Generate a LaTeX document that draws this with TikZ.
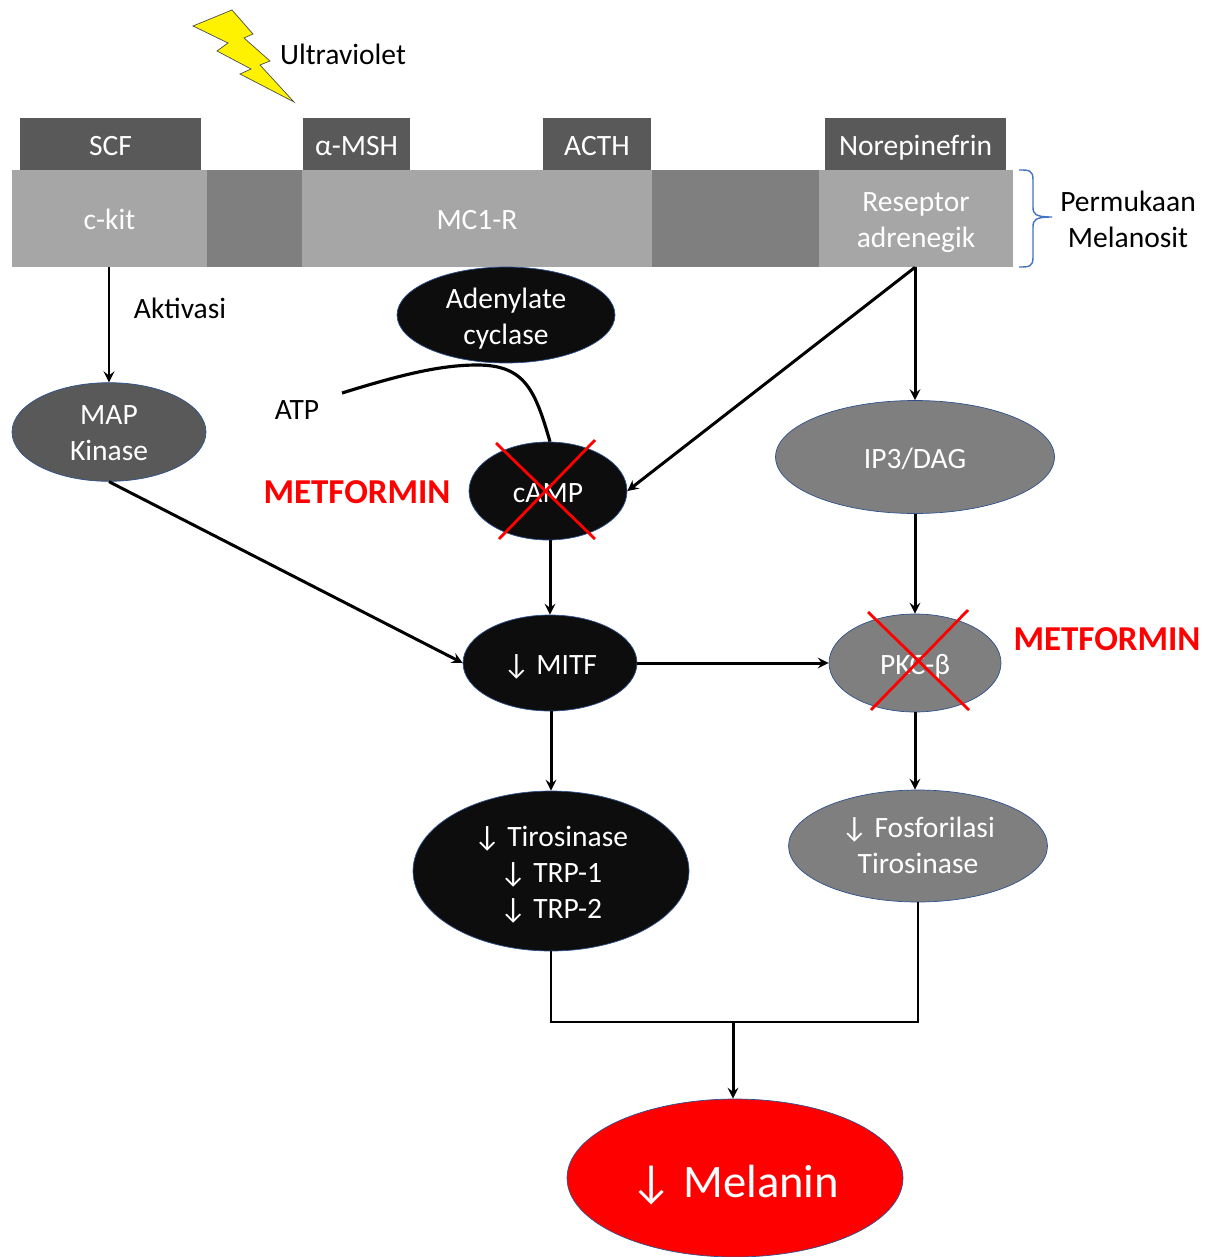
\documentclass[tikz,border=0pt]{standalone}
\usepackage{fontspec}
\setmainfont{Carlito}
\usetikzlibrary{shapes.geometric}
\definecolor{darkbox}{HTML}{595959}
\definecolor{midbox}{HTML}{A6A6A6}
\definecolor{gapbox}{HTML}{7F7F7F}
\definecolor{nearblack}{HTML}{0D0D0D}
\definecolor{edgeblue}{HTML}{2F528F}
\definecolor{bracketblue}{HTML}{4472C4}
\tikzset{
  every node/.style={font=\fontsize{16.8}{20.5}\selectfont, align=center},
  oneline/.style={text height=16.1pt, text depth=3.5pt},
  twoline/.style={text height=36.6pt, text depth=3.5pt},
  threeline/.style={text height=57.1pt, text depth=3.5pt},
  tagbox/.style={fill=darkbox, text=white, inner sep=0pt, oneline},
  barbox/.style={fill=midbox, text=white, inner sep=0pt, minimum height=1.94cm},
  gapstrip/.style={fill=gapbox, inner sep=0pt, minimum height=1.94cm},
  blackell/.style={ellipse, draw=edgeblue, fill=nearblack, text=white, inner sep=0pt},
  greyell/.style={ellipse, draw=edgeblue, fill=gapbox, text=white, inner sep=0pt},
  link/.style={->, line width=1.7pt},
  redx/.style={red, line width=1.6pt},
  drug/.style={red, font=\fontsize{19.9}{24}\selectfont\bfseries}
}
\begin{document}
\begin{tikzpicture}[x=0.02cm, y=-0.02cm, >=stealth]
    \useasboundingbox (0,0) rectangle (1210,1257);
    % receptor bar
    \node[barbox, oneline, minimum width=3.9cm] (ckit) at (109.5,218.5) {c-kit};
    \node[gapstrip, minimum width=1.9cm] (gapa) at (254.5,218.5) {};
    \node[barbox, oneline, minimum width=7cm] (mcr) at (477,218.5) {MC1-R};
    \node[gapstrip, minimum width=3.34cm] (gapb) at (735.5,218.5) {};
    \node[barbox, twoline, minimum width=3.88cm] (adr) at (916,218.5) {Reseptor\\adrenegik};
    % ligands
    \node[tagbox, minimum width=3.62cm, minimum height=1.04cm] (scf) at (110.5,144) {SCF};
    \node[tagbox, minimum width=2.14cm, minimum height=1.04cm] (msh) at (356.5,144) {α-MSH};
    \node[tagbox, minimum width=2.16cm, minimum height=1.04cm] (acth) at (597,144) {ACTH};
    \node[tagbox, minimum width=3.62cm, minimum height=1.04cm] (nor) at (915.5,144) {Norepinefrin};
    % lightning
    \draw[fill=yellow, draw=black!70, line width=0.4pt] (232,10) -- (253,34) -- (244,38) -- (270,61) -- (260,65)
        -- (294,102) -- (240,74) -- (251,69) -- (217,51) -- (228,43) -- (193,26) -- cycle;
    \node (uv) at (343,54) {Ultraviolet};
    % bracket
    \draw[bracketblue, line width=0.8pt] (1019,170) .. controls (1029,170) and (1033,170) .. (1033,180) -- (1033,207)
        .. controls (1033,214) and (1035,217) .. (1052,217) .. controls (1035,217) and (1033,220) .. (1033,227)
        -- (1033,257) .. controls (1033,267) and (1029,267) .. (1019,267);
    \node (surf) at (1128,219) {Permukaan\\Melanosit};
    % ellipses
    \node[ellipse, draw=edgeblue, fill=darkbox, text=white, inner sep=0pt, inner ysep=-0.7pt, twoline, text depth=4.5pt, minimum width=3.88cm, minimum height=1.94cm] (mapk) at (109,432) {MAP\\Kinase};
    \node[blackell, twoline, inner ysep=-1pt, minimum width=4.36cm, minimum height=1.92cm] (adc) at (506,315) {Adenylate\\cyclase};
    \node[blackell, oneline, minimum width=3.16cm, minimum height=1.96cm] (camp) at (548,491) {cAMP};
    \node[greyell, oneline, minimum width=5.58cm, minimum height=2.26cm] (ip) at (915,457) {IP3/DAG};
    \node[blackell, oneline, minimum width=3.48cm, minimum height=1.92cm] (mitf) at (550,663) {↓ MITF};
    \node[greyell, oneline, minimum width=3.44cm, minimum height=1.96cm] (pkc) at (915,663) {PKC-β};
    \node[blackell, threeline, minimum width=5.52cm, minimum height=3.2cm] (tiro) at (551,871) {↓ Tirosinase\\↓ TRP-1\\↓ TRP-2};
    \node[greyell, twoline, text depth=5.5pt, minimum width=5.18cm, minimum height=2.24cm] (fos) at (918,846) {↓ Fosforilasi\\Tirosinase};
    \node[ellipse, draw=edgeblue, fill=red, text=white, inner sep=0pt, text height=27.7pt, text depth=5.5pt, minimum width=6.72cm, minimum height=3.16cm, font=\fontsize{26.5}{32}\selectfont] (mel) at (735,1178) {↓ Melanin};
    % labels
    \node (akt) at (180,308) {Aktivasi};
    \node (atp) at (297,410) {ATP};
    \node[drug] (meta) at (357,492) {METFORMIN};
    \node[drug] (metb) at (1107,639) {METFORMIN};
    % arrows
    \draw[link] (ckit.south -| mapk.north) -- (mapk.north);
    \draw[link] (mapk.south) -- (mitf.west);
    \draw[link] (adr.south -| ip.north) -- (ip.north);
    \draw[link] (adr.south -| ip.north) -- (camp.east);
    \draw[link] (camp.south -| mitf.north) -- (mitf.north);
    \draw[link] (ip.south) -- (pkc.north);
    \draw[link] (mitf.east) -- (pkc.west);
    \draw[link] (mitf.south -| tiro.north) -- (tiro.north);
    \draw[link] (pkc.south) -- (pkc.south |- fos.north);
    % ATP curve
    \coordinate (atpstart) at (342,393);
    \draw[line width=1.8pt] (atpstart) .. controls (400,375) and (440,365) .. (477,365)
        .. controls (525,365) and (535,390) .. (camp.north -| 550,442);
    % merge
    \coordinate (merge) at (733,1022);
    \draw[line width=0.65pt] (tiro.south) -- (551,1022) -- (918,1022) -- (fos.south);
    \draw[link] (merge) -- (merge |- mel.north);
    % crosses
    \draw[redx] (496,443) -- (595,539);
    \draw[redx] (595,440) -- (499,539);
    \draw[redx] (868,612) -- (969,710);
    \draw[redx] (968,610) -- (871,710);
\end{tikzpicture}
\end{document}
